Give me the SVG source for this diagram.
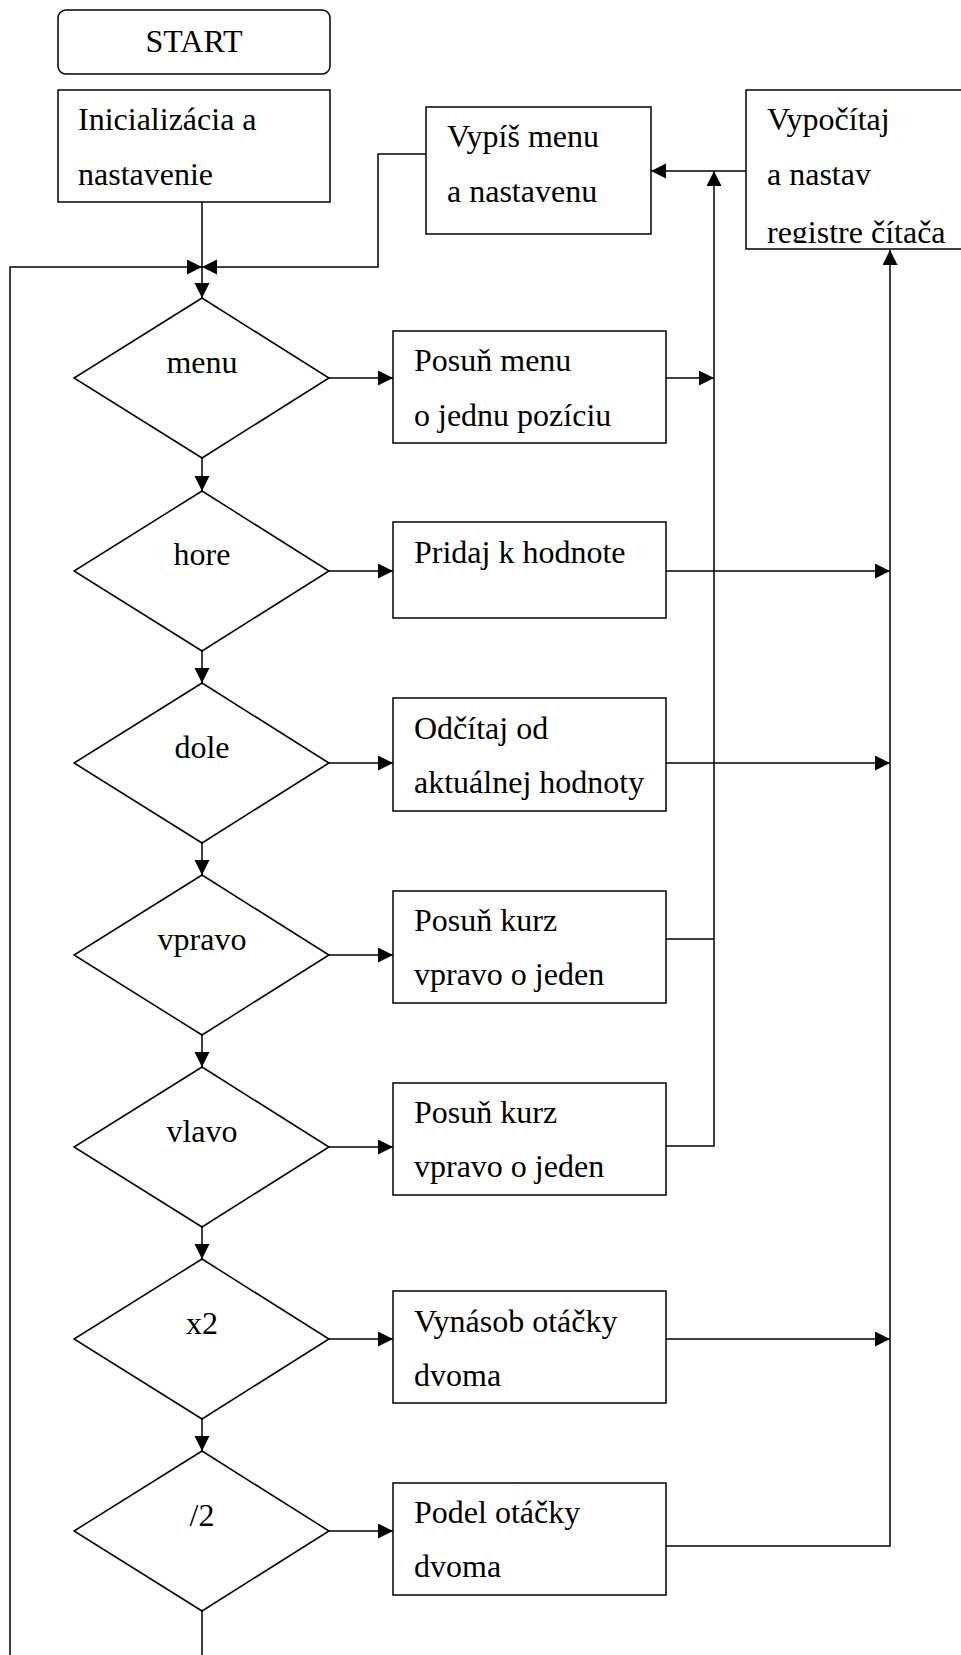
<svg xmlns="http://www.w3.org/2000/svg" width="961" height="1655" viewBox="0 0 961 1655">
<style>
  .shape { fill: #fff; stroke: #000; stroke-width: 1.5; }
  .conn { fill: none; stroke: #000; stroke-width: 1.5; }
  .arr { marker-end: url(#ah); }
  text { font-family: "Liberation Serif", "Times New Roman", serif; font-size: 32px; fill: #000; }
  .c { text-anchor: middle; }
</style>
<defs>
  <marker id="ah" markerUnits="userSpaceOnUse" markerWidth="16" markerHeight="16" refX="15" refY="7.5" orient="auto" viewBox="0 0 16 16">
    <path d="M0,0 L15,7.5 L0,15 z" fill="#000"/>
  </marker>
  <clipPath id="clipR"><rect x="746" y="90" width="216" height="153"/></clipPath>
</defs>
<rect width="961" height="1655" fill="#fff"/>

<g id="connectors">
  <path class="conn arr" d="M10,1655 V267 H202"/>
  <path class="conn arr" d="M426,154 H378 V267 H202"/>
  <path class="conn arr" d="M202,202 V298"/>
  <path class="conn arr" d="M746,171 H651"/>
  <path class="conn arr" d="M666,1146 H714 V171"/>
  <path class="conn" d="M666,939 H714"/>
  <path class="conn arr" d="M666,378 H714"/>
  <path class="conn arr" d="M666,1546 H890 V250"/>
  <path class="conn arr" d="M666,571 H890"/>
  <path class="conn arr" d="M666,763 H890"/>
  <path class="conn arr" d="M666,1339 H890"/>
  <path class="conn arr" d="M329,378 H393"/>
  <path class="conn arr" d="M329,571 H393"/>
  <path class="conn arr" d="M329,763 H393"/>
  <path class="conn arr" d="M329,955 H393"/>
  <path class="conn arr" d="M329,1147 H393"/>
  <path class="conn arr" d="M329,1339 H393"/>
  <path class="conn arr" d="M329,1531 H393"/>
  <path class="conn arr" d="M202,458 V491"/>
  <path class="conn arr" d="M202,651 V683"/>
  <path class="conn arr" d="M202,843 V875"/>
  <path class="conn arr" d="M202,1035 V1067"/>
  <path class="conn arr" d="M202,1227 V1259"/>
  <path class="conn arr" d="M202,1419 V1451"/>
  <path class="conn" d="M202,1611 V1655"/>
</g>

<g id="start">
  <rect class="shape" x="58" y="10" width="272" height="64" rx="8"/>
  <text class="c" x="194" y="52">START</text>
</g>
<g id="init">
  <rect class="shape" x="58" y="90" width="272" height="112"/>
  <text x="78" y="130">Inicializácia a</text>
  <text x="78" y="185">nastavenie</text>
</g>
<g id="vypis">
  <rect class="shape" x="426" y="107" width="225" height="127"/>
  <text x="447" y="147">Vypíš menu</text>
  <text x="447" y="202">a nastavenu</text>
</g>
<g id="vypocitaj">
  <rect class="shape" x="746" y="90" width="218" height="159"/>
  <g clip-path="url(#clipR)">
    <text x="767" y="130">Vypočítaj</text>
    <text x="767" y="185">a nastav</text>
    <text x="767" y="243">registre čítača</text>
  </g>
</g>

<g id="d-menu">
  <polygon class="shape" points="202,298 329,378 202,458 74,378"/>
  <text class="c" x="202" y="373">menu</text>
</g>
<g id="d-hore">
  <polygon class="shape" points="202,491 329,571 202,651 74,571"/>
  <text class="c" x="202" y="565">hore</text>
</g>
<g id="d-dole">
  <polygon class="shape" points="202,683 329,763 202,843 74,763"/>
  <text class="c" x="202" y="758">dole</text>
</g>
<g id="d-vpravo">
  <polygon class="shape" points="202,875 329,955 202,1035 74,955"/>
  <text class="c" x="202" y="950">vpravo</text>
</g>
<g id="d-vlavo">
  <polygon class="shape" points="202,1067 329,1147 202,1227 74,1147"/>
  <text class="c" x="202" y="1142">vlavo</text>
</g>
<g id="d-x2">
  <polygon class="shape" points="202,1259 329,1339 202,1419 74,1339"/>
  <text class="c" x="202" y="1334">x2</text>
</g>
<g id="d-div2">
  <polygon class="shape" points="202,1451 329,1531 202,1611 74,1531"/>
  <text class="c" x="202" y="1526">/2</text>
</g>

<g id="b-posun-menu">
  <rect class="shape" x="393" y="331" width="273" height="112"/>
  <text x="414" y="371">Posuň menu</text>
  <text x="414" y="426">o jednu pozíciu</text>
</g>
<g id="b-pridaj">
  <rect class="shape" x="393" y="522" width="273" height="96"/>
  <text x="414" y="563">Pridaj k hodnote</text>
</g>
<g id="b-odcitaj">
  <rect class="shape" x="393" y="698" width="273" height="113"/>
  <text x="414" y="739">Odčítaj od</text>
  <text x="414" y="793">aktuálnej hodnoty</text>
</g>
<g id="b-posun-kurz-1">
  <rect class="shape" x="393" y="891" width="273" height="112"/>
  <text x="414" y="931">Posuň kurz</text>
  <text x="414" y="985">vpravo o jeden</text>
</g>
<g id="b-posun-kurz-2">
  <rect class="shape" x="393" y="1083" width="273" height="112"/>
  <text x="414" y="1123">Posuň kurz</text>
  <text x="414" y="1177">vpravo o jeden</text>
</g>
<g id="b-vynasob">
  <rect class="shape" x="393" y="1291" width="273" height="112"/>
  <text x="414" y="1332">Vynásob otáčky</text>
  <text x="414" y="1386">dvoma</text>
</g>
<g id="b-podel">
  <rect class="shape" x="393" y="1483" width="273" height="112"/>
  <text x="414" y="1523">Podel otáčky</text>
  <text x="414" y="1577">dvoma</text>
</g>
</svg>
